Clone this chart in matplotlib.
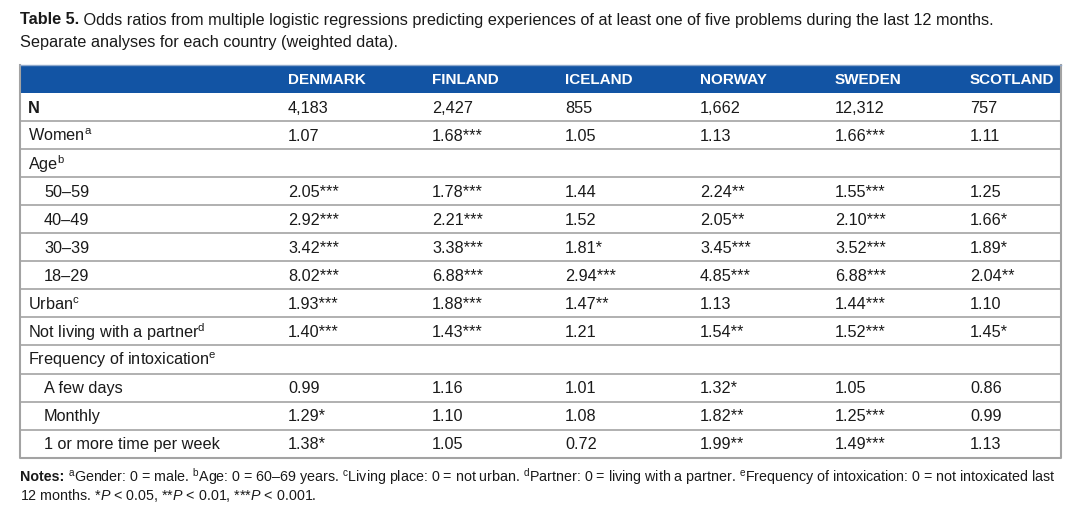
import matplotlib
matplotlib.use("Agg")
import matplotlib.pyplot as plt
from matplotlib.patches import Rectangle

plt.rcParams['font.family'] = ['Liberation Sans', 'DejaVu Sans']
plt.rcParams['mathtext.fontset'] = 'custom'
plt.rcParams['mathtext.rm'] = 'Liberation Sans'
plt.rcParams['mathtext.it'] = 'Liberation Sans:italic'
plt.rcParams['mathtext.bf'] = 'Liberation Sans:bold'

# ---- table content ----
title_bold = "Table 5."
title_rest = (" Odds ratios from multiple logistic regressions predicting experiences "
              "of at least one of five problems during the last 12 months.")
title_line2 = "Separate analyses for each country (weighted data)."

countries = ["DENMARK", "FINLAND", "ICELAND", "NORWAY", "SWEDEN", "SCOTLAND"]

row_labels = ["N", r"Women${}^{\mathrm{a}}$", r"Age${}^{\mathrm{b}}$", "50–59", "40–49",
              "30–39", "18–29", r"Urban${}^{\mathrm{c}}$",
              r"Not living with a partner${}^{\mathrm{d}}$",
              r"Frequency of intoxication${}^{\mathrm{e}}$",
              "A few days", "Monthly", "1 or more time per week"]
row_indent = [False, False, False, True, True, True, True, False, False, False, True, True, True]

denmark = ["4,183", "1.07", "", "2.05***", "2.92***", "3.42***", "8.02***", "1.93***", "1.40***", "", "0.99", "1.29*", "1.38*"]
finland = ["2,427", "1.68***", "", "1.78***", "2.21***", "3.38***", "6.88***", "1.88***", "1.43***", "", "1.16", "1.10", "1.05"]
iceland = ["855", "1.05", "", "1.44", "1.52", "1.81*", "2.94***", "1.47**", "1.21", "", "1.01", "1.08", "0.72"]
norway = ["1,662", "1.13", "", "2.24**", "2.05**", "3.45***", "4.85***", "1.13", "1.54**", "", "1.32*", "1.82**", "1.99**"]
sweden = ["12,312", "1.66***", "", "1.55***", "2.10***", "3.52***", "6.88***", "1.44***", "1.52***", "", "1.05", "1.25***", "1.49***"]
scotland = ["757", "1.11", "", "1.25", "1.66*", "1.89*", "2.04**", "1.10", "1.45*", "", "0.86", "0.99", "1.13"]
columns = [denmark, finland, iceland, norway, sweden, scotland]

notes_bold = "Notes:"
notes_line1 = (r" ${}^{\mathrm{a}}$Gender: 0 = male. ${}^{\mathrm{b}}$Age: 0 = 60–69 years. "
               r"${}^{\mathrm{c}}$Living place: 0 = not urban. ${}^{\mathrm{d}}$Partner: 0 = living with a partner. "
               r"${}^{\mathrm{e}}$Frequency of intoxication: 0 = not intoxicated last")
notes_line2 = r"12 months. *$P$ < 0.05, **$P$ < 0.01, ***$P$ < 0.001."

# ---- layout (pixels) ----
W, H = 1085, 519
left, right = 20, 1061
top, head_h, row_h = 65, 28, 28.05
col_x = [288, 432, 565, 700, 835, 970]
blue = "#1254a4"
line_c = "#a3a3a3"
fs = 11.7
txt_c = "#1a1a1a"

fig = plt.figure(figsize=(W / 100, H / 100), dpi=100)
ax = fig.add_axes([0, 0, 1, 1])
ax.set_xlim(0, W)
ax.set_ylim(H, 0)
ax.axis("off")

# title
t = ax.text(left, 20, title_bold, fontsize=fs, fontweight="bold", va="center", color=txt_c)
fig.canvas.draw()
r = fig.canvas.get_renderer()
bb = t.get_window_extent(r)
ax.text(left + bb.width, 20, title_rest, fontsize=fs, va="center", color=txt_c)
ax.text(left, 42, title_line2, fontsize=fs, va="center", color=txt_c)

# header band
ax.add_patch(Rectangle((left, top), right - left, head_h, facecolor=blue, edgecolor="none"))
for i, c in enumerate(countries):
    ax.text(col_x[i], top + head_h / 2 + 1, c, fontsize=11, fontweight="bold",
            color="white", va="center")

# body rows
y0 = top + head_h
nrows = len(row_labels)
for j, lab in enumerate(row_labels):
    yc = y0 + (j + 0.5) * row_h
    ax.text(left + (24 if row_indent[j] else 8), yc + 1, lab, fontsize=fs,
            fontweight="bold" if lab == "N" else "normal", va="center", color=txt_c)
    for i, col in enumerate(columns):
        ax.text(col_x[i], yc + 1, col[j], fontsize=fs, va="center", color=txt_c)
    if j < nrows - 1:
        ax.plot([left, right], [y0 + (j + 1) * row_h] * 2, color=line_c, lw=1.2)

bottom = y0 + nrows * row_h
ax.plot([left, left, right, right], [top, bottom, bottom, top], color=line_c, lw=1.5)
ax.plot([left, right], [top, top], color="#8fa9cc", lw=1.0)

# notes
nt = ax.text(left, 477, notes_bold, fontsize=10.3, fontweight="bold", va="center", color=txt_c)
fig.canvas.draw()
bb = nt.get_window_extent(r)
ax.text(left + bb.width, 477, notes_line1, fontsize=10.3, va="center", color=txt_c)
ax.text(left, 495, notes_line2, fontsize=10.3, va="center", color=txt_c)

fig.savefig("out.png", dpi=100)
